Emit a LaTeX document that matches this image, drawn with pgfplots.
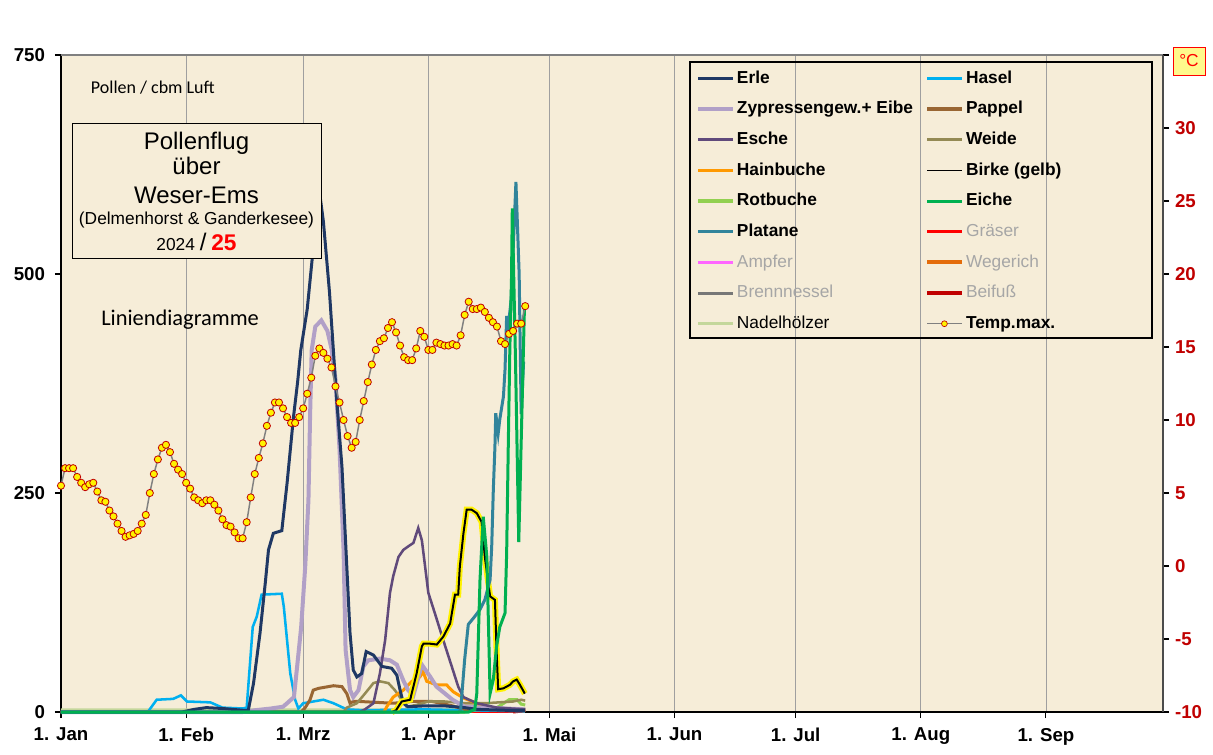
\documentclass[border=0pt]{standalone}
\usepackage{pgfplots}
\pgfplotsset{compat=1.18}
\usepackage{fontspec}
\setmainfont{Liberation Sans}
\newfontfamily\calibri{Carlito}

\definecolor{bgcol}{HTML}{F6EDD8}
\definecolor{cErle}{HTML}{1F3864}
\definecolor{cHasel}{HTML}{00B0F0}
\definecolor{cZyp}{HTML}{B1A0C7}
\definecolor{cPappel}{HTML}{996633}
\definecolor{cEsche}{HTML}{604A7B}
\definecolor{cWeide}{HTML}{948A54}
\definecolor{cHain}{HTML}{FF9900}
\definecolor{cRotb}{HTML}{92D050}
\definecolor{cEiche}{HTML}{00B050}
\definecolor{cPlat}{HTML}{31849B}
\definecolor{cGras}{HTML}{FF0000}
\definecolor{cAmpf}{HTML}{FF66FF}
\definecolor{cWeg}{HTML}{E46C0A}
\definecolor{cBrenn}{HTML}{777777}
\definecolor{cBeif}{HTML}{C00000}
\definecolor{cNadel}{HTML}{C4D79B}
\definecolor{dred}{HTML}{C00000}
\definecolor{txtgray}{HTML}{A6A6A6}

\pgfplotsset{
  legend image code/.code={\draw[mark repeat=2,mark phase=2,#1] plot coordinates {(0pt,0pt) (13pt,0pt) (26pt,0pt)};},
  plotarea/.style={at={(45.75pt,31.5pt)}, anchor=south west, scale only axis,
    width=826.5pt, height=492.75pt, xmin=0, xmax=273, clip=false},
}

\begin{document}
\begin{tikzpicture}[x=0.75pt,y=0.75pt]
\path[use as bounding box] (0,0) rectangle (1213,754);

\begin{axis}[
  plotarea,
  ymin=0, ymax=750,
  axis background/.style={fill=bgcol},
  axis x line*=bottom, axis y line*=left,
  axis line style={black, line width=1.5pt},
  xtick={0,31,60,91,121,152,182,213,244},
  xticklabels={1. Jan,1. Feb,1. Mrz,1. Apr,1. Mai,1. Jun,1. Jul,1. Aug,1. Sep},
  ytick={0,250,500,750},
  tick align=outside, major tick length=4.5pt,
  tick style={black, line width=0.8pt},
  xmajorgrids, grid style={color=gray!75, line width=0.6pt},
  ticklabel style={font=\bfseries\fontsize{14}{16}\selectfont},
  /pgf/number format/assume math mode=true,
  yticklabel style={xshift=-4pt},
  xticklabel style={yshift=-4pt},
  after end axis/.code={\draw[gray, line width=0.8pt] (rel axis cs:0,1) -- (rel axis cs:1,1) -- (rel axis cs:1,0);},
  legend columns=2,
  legend cell align=left,
  legend style={at={(0.576,0.978)}, anchor=north west, draw=none, fill=none,
    inner sep=0pt, row sep=10pt,
    font=\bfseries\fontsize{13}{15}\selectfont,
    nodes={inner sep=0.5pt, text height=9.5pt, text depth=2.5pt},
    /tikz/every odd column/.append style={column sep=1.2pt},
    /tikz/every even column/.append style={column sep=8.5pt}},
]
% series drawn bottom to top
\addplot[forget plot, cAmpf, line width=1.9pt] coordinates {(95,0)(115,0)};
\addplot[forget plot, cWeg, line width=1.9pt] coordinates {(95,0)(115,0)};
\addplot[forget plot, cBrenn, line width=1.9pt] coordinates {(95,0)(115,0)};
\addplot[forget plot, cGras, line width=1.9pt] coordinates {(98,0.5)(110,0.5)(114,1)(115,2)};
\addplot[forget plot, cBeif, line width=2.25pt] coordinates {(112,0)(114,1)(115,2)};
\addplot[forget plot, cNadel, line width=3pt] coordinates {(0,2)(30,2)(60,2)(90,2)(100,3)(110,3)(115,3)};
\addplot[forget plot, cRotb, line width=2.25pt] coordinates {(0,0)(100,0)(104,3)(108,5)(109,8)(111,14)(113,14)(114,9)(115,8)};
\addplot[forget plot, cHasel, line width=1.9pt] coordinates {
  (0,0)(21.5,0)(23.7,14)(27.8,15)(29.7,19)(31.2,12)(37,11)(40,5)(45,4)(46,5)(47.5,97)(48.5,109)
  (49.7,134)(54.7,135)(55.2,120)(56.8,44)(58,14)(58.8,4)(60,10)(65,14)(67.5,10)(70.8,3)(75,2)
  (90,3)(100,2)(115,1)};
\addplot[forget plot, cPappel, line width=2.25pt] coordinates {
  (0,0)(59.5,0)(60.5,5)(61.7,14)(62.5,25)(63.8,27)(67.5,30)(69.6,29)(70.8,21)(71.6,10)(72.4,12)
  (74,12)(82.3,10)(87,12)(92,12)(97,7)(100,3)(115,2)};
\addplot[forget plot, cWeide, line width=1.9pt] coordinates {
  (0,0)(70,0)(70.8,5)(73.3,10)(75.3,21)(77.4,33)(79,35)(81.1,33)(82.7,25)(84.4,14)(85.6,6)(88,8)
  (91,12)(95,12)(100,10)(105,10)(112,12)(114,14)(115,13)};
\addplot[forget plot, cHain, line width=2.25pt] coordinates {
  (0,0)(80,0)(80.7,6)(82.3,17)(84.8,25)(86.9,35)(88.9,40)(89.7,46)(90.6,35)(93.1,31)(95.5,31)
  (97.2,23)(99.7,16)(103,10)(104,6)(108,3)(115,2)};
\addplot[forget plot, cZyp, line width=3pt] coordinates {
  (0,0)(45,0)(48,2)(52,4)(55,6)(56,10)(57.7,17)(58.5,52)(59.5,97)(60.5,166)(61.3,242)(61.7,337)
  (62.1,413)(63,440)(64.5,447)(66,435)(67,415)(68,380)(69,300)(70,185)(70.5,71)(71.6,25)(72.4,17)
  (73.7,25)(74.9,52)(76.1,59)(79,61)(81.5,59)(83.2,54)(84.8,36)(86,25)(87.3,19)(89.4,54)(91.5,40)
  (93,29)(97,14)(100,6)(110,4)(115,3)};
\addplot[forget plot, cEsche, line width=1.9pt] coordinates {
  (0,0)(74,0)(75.3,3)(77.4,10)(79,44)(80.3,82)(81.5,136)(82.3,155)(83.6,177)(84.8,185)(86,189)
  (87.3,193)(88.5,210)(89.4,196)(90.2,166)(91,136)(92.6,113)(94.7,82)(96.8,52)(98.4,29)(99.7,17)
  (103,10)(108,5)(115,3)};
\addplot[forget plot, cErle, line width=2.25pt] coordinates {
  (0,0)(30,0)(33,3)(36,5)(40,4)(45,2)(46.4,2)(47.7,33)(49.3,90)(50.6,147)(51.4,185)(52.6,204)
  (54.7,207)(56,261)(57.6,337)(58.6,376)(59.4,413)(61,460)(62.5,530)(64,595)(65,560)(66.5,480)
  (68.3,356)(69.6,280)(70.8,166)(71.6,90)(72.4,48)(73.3,40)(74.5,44)(75.6,69)(77.4,65)(79.5,52)
  (81.9,50)(83.2,42)(84,25)(84.8,10)(86,6)(90,7)(95,7)(100,5)(103,3)(110,2)(115,2)};
\addplot[forget plot, yellow, line width=4.5pt] coordinates {
  (82,0)(83,2)(84.4,12)(86.5,14)(88.1,44)(89.4,75)(89.8,78)(91.4,78)(93.1,77)(94.7,86)(96.4,101)
  (97.6,134)(98.4,134)(98.8,166)(99.7,204)(100.5,231)(101.7,231)(103,227)(104.2,217)(105,177)
  (106.3,132)(107.5,128)(107.9,71)(108.3,26)(109.6,27)(111.2,31)(112,35)(112.9,37)(113.7,31)(114.9,21)};
\addplot[forget plot, black, line width=1.5pt] coordinates {
  (82,0)(83,2)(84.4,12)(86.5,14)(88.1,44)(89.4,75)(89.8,78)(91.4,78)(93.1,77)(94.7,86)(96.4,101)
  (97.6,134)(98.4,134)(98.8,166)(99.7,204)(100.5,231)(101.7,231)(103,227)(104.2,217)(105,177)
  (106.3,132)(107.5,128)(107.9,71)(108.3,26)(109.6,27)(111.2,31)(112,35)(112.9,37)(113.7,31)(114.9,21)};
\addplot[forget plot, cPlat, line width=2.25pt] coordinates {
  (0,0)(98.5,0)(99,2)(100,60)(100.9,100)(102.5,109)(103.8,117)(105,128)(106.3,151)(106.7,189)
  (107.1,254)(107.5,303)(107.7,341)(108.3,318)(108.7,334)(109.6,360)(110,391)(110.4,452)
  (110.8,440)(111.5,470)(112.7,605)(113.5,500)(114,340)(114.6,400)};
\addplot[forget plot, cEiche, line width=2.25pt] coordinates {
  (0,0)(101,0)(102.5,3)(103,21)(103.8,151)(104.6,223)(105.5,177)(106.3,21)(107.1,37)(107.9,75)
  (108.7,97)(110,113)(110.4,181)(110.8,303)(111.2,417)(111.6,494)(111.8,575)(112.6,400)
  (113.4,194)(114.8,460)};

% legend, in the order of the reference
\addlegendimage{cErle, line width=2.25pt}\addlegendentry{Erle}
\addlegendimage{cHasel, line width=2.25pt}\addlegendentry{Hasel}
\addlegendimage{cZyp, line width=3pt}\addlegendentry{Zypressengew.+ Eibe}
\addlegendimage{cPappel, line width=3pt}\addlegendentry{Pappel}
\addlegendimage{cEsche, line width=2.25pt}\addlegendentry{Esche}
\addlegendimage{cWeide, line width=2.25pt}\addlegendentry{Weide}
\addlegendimage{cHain, line width=2.25pt}\addlegendentry{Hainbuche}
\addlegendimage{black, line width=1pt}\addlegendentry{Birke (gelb)}
\addlegendimage{cRotb, line width=3pt}\addlegendentry{Rotbuche}
\addlegendimage{cEiche, line width=2.25pt}\addlegendentry{Eiche}
\addlegendimage{cPlat, line width=2.25pt}\addlegendentry{Platane}
\addlegendimage{cGras, line width=2.25pt}\addlegendentry{\mdseries\textcolor{txtgray}{Gräser}}
\addlegendimage{cAmpf, line width=2.25pt}\addlegendentry{\mdseries\textcolor{txtgray}{Ampfer}}
\addlegendimage{cWeg, line width=3pt}\addlegendentry{\mdseries\textcolor{txtgray}{Wegerich}}
\addlegendimage{cBrenn, line width=2.25pt}\addlegendentry{\mdseries\textcolor{txtgray}{Brennnessel}}
\addlegendimage{cBeif, line width=3pt}\addlegendentry{\mdseries\textcolor{txtgray}{Beifuß}}
\addlegendimage{cNadel, line width=2.25pt}\addlegendentry{\mdseries Nadelhölzer}
\addlegendimage{gray, line width=1.1pt, mark=*, mark size=2.2pt, mark options={fill=yellow, draw=dred, line width=0.5pt}}\addlegendentry{Temp.max.}
\end{axis}

\begin{axis}[
  plotarea,
  ymin=-10, ymax=35,
  axis x line=none, axis y line*=right,
  axis line style={black!70, line width=0.8pt},
  ytick={-10,-5,0,5,10,15,20,25,30,35},
  yticklabels={-10,-5,0,5,10,15,20,25,30,{}},
  tick align=outside, major tick length=4.5pt,
  tick style={black, line width=0.8pt},
  yticklabel style={color=dred, font=\bfseries\fontsize{14}{16}\selectfont, xshift=1pt},
]
\addplot[color=gray, line width=1.1pt, mark=*, mark size=2.7pt,
  mark options={fill=yellow, draw=dred, line width=0.6pt}] coordinates {
  (0,5.5)(1,6.7)(2,6.7)(3,6.7)(4,6.1)(5,5.7)(6,5.4)(7,5.6)(8,5.7)(9,5.1)(10,4.5)(11,4.4)(12,3.8)
  (13,3.4)(14,2.9)(15,2.4)(16,2.0)(17,2.1)(18,2.2)(19,2.4)(20,2.9)(21,3.5)(22,5.0)(23,6.3)(24,7.3)
  (25,8.1)(26,8.3)(27,7.8)(28,7.0)(29,6.6)(30,6.3)(31,5.7)(32,5.3)(33,4.7)(34,4.5)(35,4.3)(36,4.5)
  (37,4.5)(38,4.2)(39,3.8)(40,3.2)(41,2.8)(42,2.7)(43,2.3)(44,1.9)(45,1.9)(46,3.0)(47,4.7)(48,6.3)
  (49,7.4)(50,8.4)(51,9.6)(52,10.5)(53,11.2)(54,11.2)(55,10.8)(56,10.2)(57,9.8)(58,9.8)(59,10.2)
  (60,10.8)(61,11.8)(62,12.9)(63,14.4)(64,14.9)(65,14.6)(66,14.2)(67,13.6)(68,12.3)(69,11.2)
  (70,10.0)(71,8.9)(72,8.1)(73,8.5)(74,10.0)(75,11.3)(76,12.6)(77,13.8)(78,14.8)(79,15.4)(80,15.6)
  (81,16.3)(82,16.7)(83,16.0)(84,15.1)(85,14.3)(86,14.1)(87,14.1)(88,14.9)(89,16.1)(90,15.7)
  (91,14.8)(92,14.8)(93,15.3)(94,15.2)(95,15.1)(96,15.1)(97,15.2)(98,15.1)(99,15.8)(100,17.2)
  (101,18.1)(102,17.6)(103,17.6)(104,17.7)(105,17.4)(106,17.0)(107,16.7)(108,16.4)(109,15.4)
  (110,15.2)(111,15.9)(112,16.1)(113,16.6)(114,16.6)(115,17.8)};
\end{axis}

% legend frame
\draw[black, line width=1.5pt] (690,692) rectangle (1152,416);
% title box
\draw[black, line width=0.6pt, fill=bgcol] (72,631) rectangle (321,496);
\node[anchor=base, font=\fontsize{18}{20}\selectfont] at (196.5,604.6) {Pollenflug};
\node[anchor=base, font=\fontsize{18}{20}\selectfont] at (196.5,579) {über};
\node[anchor=base, font=\fontsize{18}{20}\selectfont] at (196.5,550.7) {Weser-Ems};
\node[anchor=base, font=\fontsize{13}{15}\selectfont, inner sep=0pt] at (196.5,529) {(Delmenhorst \& Ganderkesee)};
\node[anchor=base, font=\fontsize{13}{15}\selectfont] at (196.5,503.3) {2024 {\fontsize{18}{20}\selectfont /} {\fontsize{17}{20}\selectfont\bfseries\textcolor{red}{25}}};
\node[anchor=base west, inner sep=0pt, font=\calibri\fontsize{13.5}{15}\selectfont] at (90.7,660.7) {Pollen / cbm Luft};
\node[anchor=base west, inner sep=0pt, font=\calibri\fontsize{16.8}{19}\selectfont] at (101,428) {Liniendiagramme};
% unit box
\node[draw=red, fill=yellow!45, text=red, line width=0.6pt, minimum width=24pt, minimum height=21pt, inner sep=0pt, font=\fontsize{13}{15}\selectfont] at (1189,693) {°C};
\end{tikzpicture}
\end{document}
